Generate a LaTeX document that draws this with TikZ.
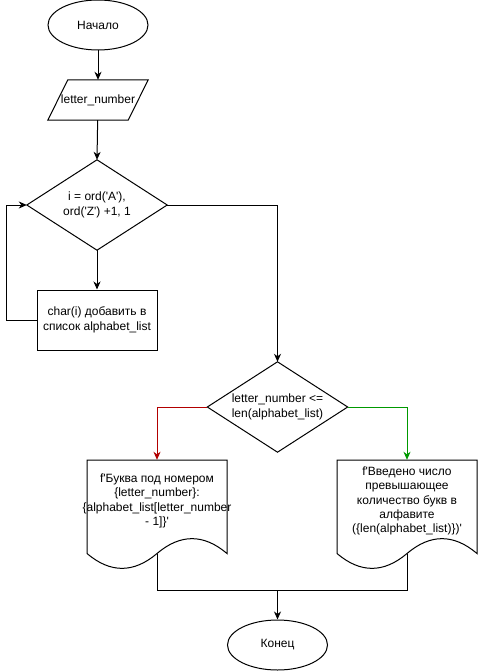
\documentclass[tikz,border=0pt]{standalone}
\usepackage{fontspec}
\setmainfont{Liberation Sans}
\usetikzlibrary{shapes.geometric,arrows.meta,calc}
\newcommand\sq{\textquotesingle}
% Document (wavy bottom) outline drawn around a node, relative to its centre
\newcommand\docoutline[1]{%
  \draw[line] ($(#1.center)+(-70,-41)$) -- ($(#1.center)+(70,-41)$)
    -- ($(#1.center)+(70,52.5)$)
    .. controls ($(#1.center)+(46.67,32.7)$) and ($(#1.center)+(23.33,32.7)$) .. ($(#1.center)+(0,52.5)$)
    .. controls ($(#1.center)+(-23.33,72.3)$) and ($(#1.center)+(-46.67,72.3)$) .. ($(#1.center)+(-70,52.5)$)
    -- cycle;
  \coordinate (#1-out) at ($(#1.center)+(0,52.5)$);}
\begin{document}
\begin{tikzpicture}[x=1pt,y=-1pt,
  line/.style={draw=black,line width=1pt},
  lbl/.style={font=\fontsize{12}{14.4}\selectfont,align=center,inner sep=0pt},
  terminal/.style={lbl,line,ellipse,minimum width=100,minimum height=50},
  arr/.style={line,-{Stealth[length=8pt,width=7pt,inset=2.5pt]}},
  shapebox/.style={lbl,rectangle},
  nobranch/.style={arr,draw=red!70!black},
  yesbranch/.style={arr,draw=green!60!black}]
\useasboundingbox (0,0) rectangle (478,671);

% Start / input
\node[terminal] (start) at (98,25) {Начало};
\node[shapebox,minimum width=100,minimum height=40] (inp) at (98,100) {letter\_number};
\draw[line] ($(inp.north west)+(20,0)$) -- (inp.north east)
  -- ($(inp.south east)+(-20,0)$) -- (inp.south west) -- cycle;

% Loop header
\node[shapebox,minimum width=140,minimum height=90] (loop) at (97,205)
  {i = ord(\sq A\sq),\\ord(\sq Z\sq) +1, 1};
\draw[line] (loop.north) -- (loop.east) -- (loop.south) -- (loop.west) -- cycle;

% Loop body
\node[shapebox,line,minimum width=120,minimum height=60] (body) at (97,320)
  {char(i) добавить в\\список alphabet\_list};

% Condition
\node[shapebox,minimum width=140,minimum height=90] (cond) at (277.5,407)
  {letter\_number <=\\len(alphabet\_list)};
\draw[line] (cond.north) -- (cond.east) -- (cond.south) -- (cond.west) -- cycle;

% Outputs
\node[shapebox,minimum width=140,minimum height=82] (outa) at (157,501)
  {f\sq Буква под номером\\\{letter\_number\}:\\\{alphabet\_list[letter\_number\\- 1]\}\sq};
\docoutline{outa}
\node[shapebox,minimum width=140,minimum height=82] (outb) at (407,501)
  {f\sq Введено число\\превышающее\\количество букв в\\алфавите\\(\{len(alphabet\_list)\})\sq};
\docoutline{outb}

% End
\node[terminal] (stop) at (277.5,645) {Конец};
\coordinate (merge) at (277.5,590);

% Connectors
\draw[arr] (start) -- (inp);
\draw[arr] (inp) -- (loop.north);
\draw[arr] (loop.south) -- (body);
\draw[arr] (body.west) -- ++(-30,0) |- (loop.west);
\draw[arr] (loop.east) -| (cond.north);
\draw[nobranch] (cond.west) -| (outa.north);
\draw[yesbranch] (cond.east) -| (outb.north);
\draw[line] (outa-out) |- (merge);
\draw[line] (outb-out) |- (merge);
\draw[arr] (merge) -- (stop);
\end{tikzpicture}
\end{document}
